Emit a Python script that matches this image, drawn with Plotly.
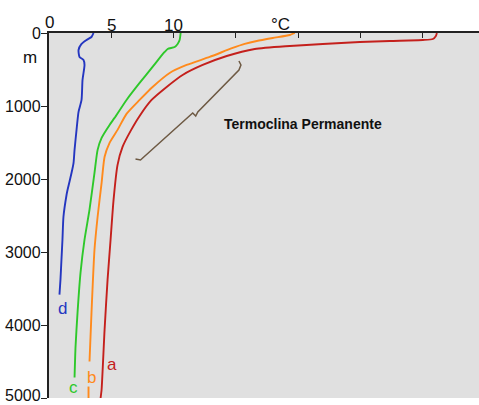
import plotly.graph_objects as go

# Temperature (°C) vs depth (m) profiles
a_temp = [31.12, 31.04, 30.80, 30.00, 27.35, 24.94, 21.97, 19.32, 16.51, 14.26, 12.33, 10.72, 9.44, 8.23,
          7.27, 6.55, 5.90, 5.50, 5.18, 4.94, 4.70, 4.46, 4.22, 4.14]
a_depth = [0, 41, 82, 96, 109, 123, 150, 178, 219, 315, 438, 575, 739, 917,
           1136, 1341, 1560, 1806, 2285, 2832, 3379, 4063, 4884, 5000]

b_temp = [19.72, 19.32, 17.95, 16.67, 15.70, 14.74, 12.89, 11.04, 9.68, 8.31, 7.27, 6.22, 5.50, 4.86,
          4.46, 4.22, 3.90, 3.65, 3.49, 3.41, 3.25, None, 3.17, 3.17]
b_depth = [0, 27, 68, 109, 150, 205, 328, 438, 547, 739, 917, 1108, 1327, 1505,
           1696, 2052, 2517, 2969, 3516, 3830, 4501, None, 4843, 5000]

c_temp = [10.56, 10.48, 10.32, 10.08, 9.52, 9.28, 8.88, 8.31, 7.27, 6.22, 5.26, 4.86, 4.22, 3.90,
          3.65, 3.25, 2.85, 2.53, 2.29, 2.13, 2.05]
c_depth = [0, 96, 150, 192, 219, 260, 342, 465, 684, 917, 1163, 1259, 1437, 1601,
           1915, 2421, 2832, 3283, 3830, 4295, 4720]

d_temp = [3.57, 3.41, 3.01, 2.61, 2.37, 2.45, 2.77, 2.85, 2.69, 2.61, 2.37, 2.21, 2.05, 1.97,
          1.81, 1.49, 1.41, 1.16, 1.08, 1.00, 0.92, 0.84]
d_depth = [0, 55, 96, 150, 233, 328, 369, 438, 643, 917, 1081, 1327, 1601, 1778,
           1915, 2148, 2216, 2517, 2832, 3105, 3379, 3584]

series_names = ["a", "b", "c", "d"]
series_colors = ["#c4201c", "#ff8a1c", "#2ec82a", "#2436c0"]
label_temp = [5.02, 3.41, 1.97, 1.08]
label_depth = [4542, 4720, 4856, 3776]

# brace marking the permanent thermocline
brace_temp = [15.24, 15.40, 15.24, 11.94, 11.77, 11.53, 7.34, 6.94]
brace_depth = [384, 438, 507, 1082, 1137, 1096, 1740, 1726]
brace_text = "Termoclina Permanente"
brace_text_pos = (20.4, 1247)

x_tickvals = [0, 5, 10, 15, 20, 25, 30]
x_ticktext = ["0", "5", "10", "", "", "", ""]
x_unit = "°C"
x_unit_pos = 18.6
y_tickvals = [0, 1000, 2000, 3000, 4000, 5000]
y_ticktext = ["0", "1000", "2000", "3000", "4000", "5000"]
y_unit = "m"
y_unit_pos = 342

FONT = "Liberation Sans, Arial, sans-serif"

fig = go.Figure()
temps = [a_temp, b_temp, c_temp, d_temp]
depths = [a_depth, b_depth, c_depth, d_depth]
for name, col, t, dd in zip(series_names, series_colors, temps, depths):
    fig.add_trace(go.Scatter(x=t, y=dd, mode="lines", name=name,
                             line=dict(color=col, width=1.9, shape="spline", smoothing=0.6),
                             connectgaps=False, hoverinfo="skip"))

fig.add_trace(go.Scatter(x=brace_temp, y=brace_depth, mode="lines",
                         line=dict(color="#6e5a44", width=1.5), hoverinfo="skip"))

for name, col, xt, yd in zip(series_names, series_colors, label_temp, label_depth):
    fig.add_annotation(x=xt, y=yd, text=name, showarrow=False,
                       font=dict(family=FONT, size=17, color=col))

fig.add_annotation(x=brace_text_pos[0], y=brace_text_pos[1], text=brace_text, showarrow=False,
                   font=dict(family=FONT, size=14, color="#111111", weight="bold"))

# top-axis tick labels (drawn as text so they sit close to the axis like the original)
for val, txt in zip(x_tickvals, x_ticktext):
    if txt:
        fig.add_annotation(x=val, y=1, xref="x", yref="paper", yanchor="middle",
                           yshift=11 if val == 0 else 8, text=txt, showarrow=False,
                           font=dict(family=FONT, size=17, color="#111111"))

# left-axis tick labels; the last one is nudged up so it stays inside the picture
y_label_shift = [0, 0, 0, 0, 0, 3]
for val, txt, sh in zip(y_tickvals, y_ticktext, y_label_shift):
    fig.add_annotation(x=0, xref="paper", xanchor="right", xshift=-6, y=val, yref="y",
                       yanchor="middle", yshift=sh, text=txt, showarrow=False,
                       font=dict(family=FONT, size=16, color="#111111"))

fig.add_annotation(x=x_unit_pos, y=1, xref="x", yref="paper", yanchor="middle", yshift=9,
                   text=x_unit, showarrow=False, font=dict(family=FONT, size=17, color="#111111"))
fig.add_annotation(x=0, xref="paper", xanchor="right", xshift=-10, y=y_unit_pos, yref="y",
                   text=y_unit, showarrow=False, font=dict(family=FONT, size=17, color="#111111"))

fig.update_layout(
    width=479, height=405,
    margin=dict(l=49, r=0, t=33, b=7, autoexpand=False),
    paper_bgcolor="white", plot_bgcolor="#e0e0e0",
    showlegend=False,
    font=dict(family=FONT, size=16, color="#111111"),
    xaxis=dict(side="top", range=[0, 34.5], tickvals=x_tickvals, showticklabels=False,
               ticks="inside", ticklen=5, tickcolor="#222", showline=True, linecolor="#222",
               linewidth=1.5, showgrid=False, zeroline=False, fixedrange=True, automargin=False),
    yaxis=dict(range=[5000, 0], tickvals=y_tickvals, showticklabels=False,
               ticks="outside", ticklen=6, tickcolor="#222", showline=True, linecolor="#222",
               linewidth=1.5, showgrid=False, zeroline=False, fixedrange=True, automargin=False),
)

fig.write_html("out.html", config={"displayModeBar": False},
               post_script="document.body.style.margin='0';document.body.style.overflow='hidden';")
